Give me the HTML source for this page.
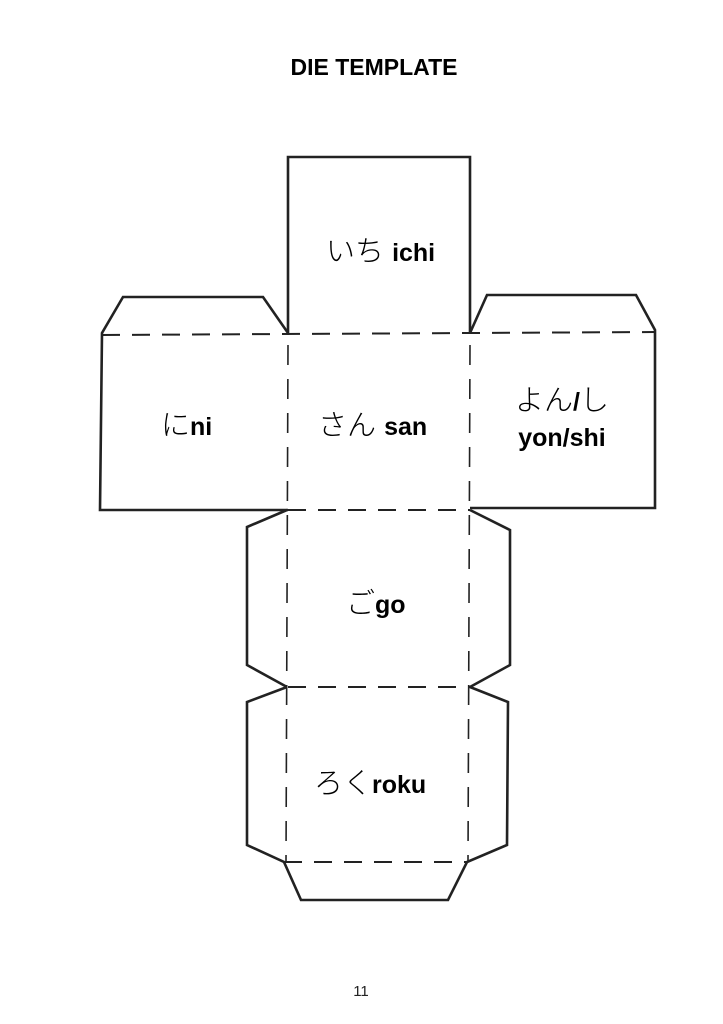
<!DOCTYPE html>
<html><head><meta charset="utf-8"><style>
html,body{margin:0;padding:0;background:#fff;}
svg{display:block;}
.k{font-family:"Liberation Sans","Noto Sans CJK JP",sans-serif;font-weight:300;font-size:29px;}
.b{font-family:"Liberation Sans",sans-serif;font-weight:bold;}
</style></head><body>
<svg width="723" height="1024" viewBox="0 0 723 1024" xmlns="http://www.w3.org/2000/svg">
<rect width="723" height="1024" fill="#fff"/>
<text x="374" y="75" text-anchor="middle" class="b" font-size="23" fill="#000">DIE TEMPLATE</text>
<g fill="none" stroke="#222" stroke-width="2.6" stroke-linejoin="miter">
<polyline points="288,335 288,157 470,157 470,333"/>
<polyline points="288,333 263,297 123,297 102,333 100,510 288,510"/>
<polyline points="470,333 487,295 636,295 655,330 655,508 470,508"/>
<polyline points="287,510 247,527 247,665 287,687"/>
<polyline points="470,510 510,530 510,665 470,687"/>
<polyline points="287,687 247,702 247,845 284,862 301,900 448,900 467,862 507,845 508,702 470,687"/>
</g>
<g fill="none" stroke="#222" stroke-width="2" stroke-dasharray="18,12">
<line x1="102" y1="335" x2="655" y2="332"/>
<line x1="288" y1="510" x2="470" y2="510"/>
<line x1="288" y1="687" x2="470" y2="687"/>
<line x1="284" y1="862" x2="467" y2="862"/>
</g>
<g fill="none" stroke="#222" stroke-width="1.6" stroke-dasharray="20,14">
<line x1="288" y1="345" x2="286" y2="862"/>
<line x1="470" y1="345" x2="468" y2="862"/>
</g>
<g font-size="25" fill="#000">
<text x="326" y="261"><tspan class="k">いち </tspan><tspan class="b">ichi</tspan></text>
<text x="161" y="435"><tspan class="k">に</tspan><tspan class="b">ni</tspan></text>
<text x="318" y="435"><tspan class="k">さん </tspan><tspan class="b">san</tspan></text>
<text x="562" y="410" text-anchor="middle"><tspan class="k">よん</tspan><tspan class="b">/</tspan><tspan class="k">し</tspan></text>
<text x="562" y="446" text-anchor="middle" class="b">yon/shi</text>
<text x="346" y="613"><tspan class="k">ご</tspan><tspan class="b">go</tspan></text>
<text x="314" y="793"><tspan class="k">ろく</tspan><tspan class="b">roku</tspan></text>
</g>
<text x="361" y="996" text-anchor="middle" font-family="Liberation Sans, sans-serif" font-size="15" fill="#222">11</text>
</svg>
</body></html>
